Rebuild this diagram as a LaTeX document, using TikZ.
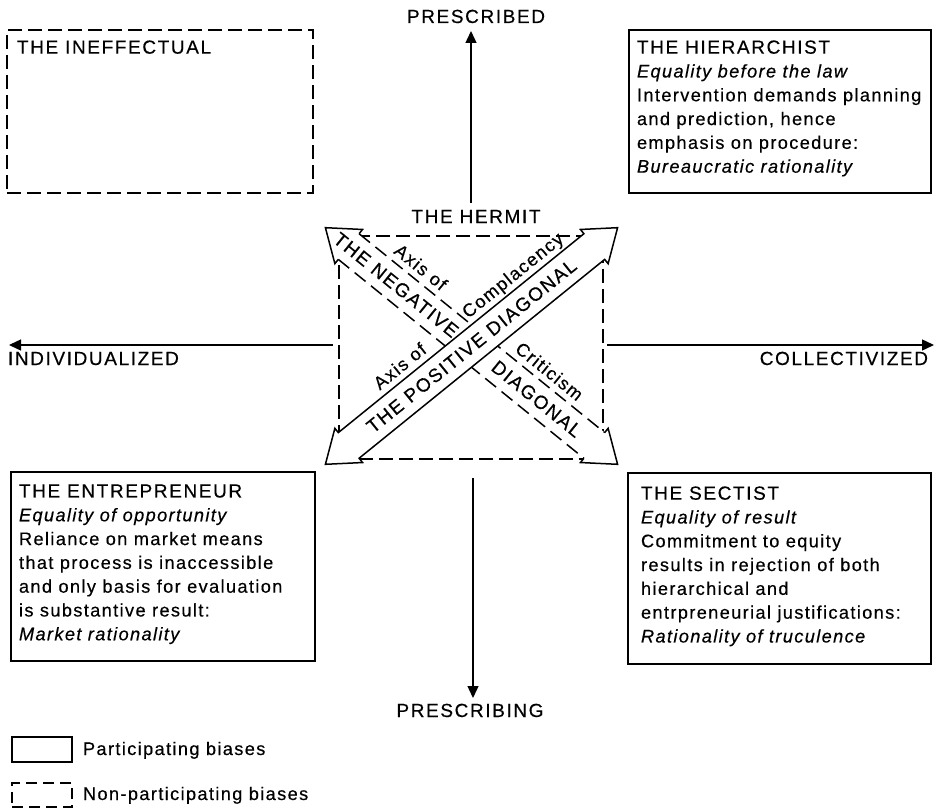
\documentclass[tikz,border=0pt]{standalone}
\usepackage{fontspec}
\setmainfont{Liberation Sans}[LetterSpace=7.5, FakeBold=0.4]
\usetikzlibrary{arrows.meta}
\newcommand\capsfont{\fontsize{19}{24}\selectfont\addfontfeature{LetterSpace=8.5}}
\newcommand\bodyfont{\fontsize{18.2}{23.8}\selectfont}
\begin{document}
\begin{tikzpicture}[x=1pt,y=-1pt,
  every node/.style={inner sep=0pt, outer sep=0pt},
  bxsolid/.style={draw, line width=1.7pt, anchor=north west},
  bxdash/.style={draw, line width=1.7pt, anchor=north west, dash pattern=on 14pt off 6pt},
  boxtext/.style={anchor=north west, align=left, font=\bodyfont},
  caps/.style={font=\capsfont},
  small/.style={font=\bodyfont},
  axis/.style={line width=1.4pt, -{Triangle[length=12pt,width=11pt]}},
  fatline/.style={line width=1.5pt, line join=miter},
  fatdash/.style={line width=1.5pt, dash pattern=on 14pt off 7pt},
]
\useasboundingbox (0,0) rectangle (940,808);

% ---- the four bias boxes ----
\node[bxdash, minimum width=306pt, minimum height=163pt] (ineff) at (7,30) {};
\node[boxtext] (inefftext) at (17,40.4) {{\capsfont THE INEFFECTUAL}};

\node[bxsolid, minimum width=302pt, minimum height=163pt] (hier) at (629,30) {};
\node[boxtext] (hiertext) at (637,40.4) {{\capsfont THE HIERARCHIST}\\
  \textit{Equality before the law}\\
  Intervention demands planning\\
  and prediction, hence\\
  emphasis on procedure:\\
  \textit{Bureaucratic rationality}};

\node[bxsolid, minimum width=304pt, minimum height=189pt] (entre) at (11,472) {};
\node[boxtext] (entretext) at (19,484.4) {{\capsfont THE ENTREPRENEUR}\\
  \textit{Equality of opportunity}\\
  Reliance on market means\\
  that process is inaccessible\\
  and only basis for evaluation\\
  is substantive result:\\
  \textit{Market rationality}};

\node[bxsolid, minimum width=303pt, minimum height=191pt] (sect) at (628,473) {};
\node[boxtext] (secttext) at (641,486.4) {{\capsfont THE SECTIST}\\
  \textit{Equality of result}\\
  Commitment to equity\\
  results in rejection of both\\
  hierarchical and\\
  entrpreneurial justifications:\\
  \textit{Rationality of truculence}};

% ---- central zone of the hermit ----
\node[bxdash, minimum width=264pt, minimum height=223pt] (zone) at (339,236) {};
\node[caps, anchor=base] (hermit) at (476,223) {THE HERMIT};

% ---- negative diagonal (upper left to lower right) ----
\begin{scope}[shift={(471.5,346)}, x={(0.7771pt,-0.6293pt)}, y={(0.6293pt,0.7771pt)}]
  \fill[white] (188,0) -- (158,22) -- (158,16.5) -- (-158,16.5) -- (-158,22) -- (-188,0)
    -- (-158,-22) -- (-158,-16.5) -- (158,-16.5) -- (158,-22) -- cycle;
  \draw[fatline] (158,16.5) -- (158,22) -- (188,0) -- (158,-22) -- (158,-16.5);
  \draw[fatline] (-158,16.5) -- (-158,22) -- (-188,0) -- (-158,-22) -- (-158,-16.5);
  \draw[fatdash] (-158,16.5) -- (158,16.5);
  \draw[fatdash] (-158,-16.5) -- (158,-16.5);
  \node[caps, rotate=-39] (negA) at (-97,0) {THE NEGATIVE};
  \node[caps, rotate=-39] (negB) at (84,0) {DIAGONAL};
  \node[small, rotate=-39, anchor=base] (critA) at (-89,23) {Axis of};
  \node[small, rotate=-39, anchor=base] (critB) at (76.5,23) {Criticism};
\end{scope}

% ---- positive diagonal (lower left to upper right) ----
\begin{scope}[shift={(471.5,346)}, x={(0.7771pt,0.6293pt)}, y={(-0.6293pt,0.7771pt)}]
  \filldraw[fatline, fill=white] (188,0) -- (158,22) -- (158,16.5) -- (-158,16.5) -- (-158,22) -- (-188,0)
    -- (-158,-22) -- (-158,-16.5) -- (158,-16.5) -- (158,-22) -- cycle;
  \node[caps, rotate=39] (posA) at (0,0) {THE POSITIVE DIAGONAL};
  \node[small, rotate=39, anchor=base] (compA) at (-68.5,23) {Axis of};
  \node[small, rotate=39, anchor=base] (compB) at (76.5,23) {Complacency};
\end{scope}

% ---- the two axes ----
\coordinate (upstart) at (471,203);
\coordinate (upend) at (471,31);
\coordinate (downstart) at (473,478);
\coordinate (downend) at (473,698);
\coordinate (leftstart) at (333,345);
\coordinate (leftend) at (9,345);
\coordinate (rightstart) at (607,345);
\coordinate (rightend) at (934,345);
\draw[axis] (upstart) -- (upend);
\draw[axis] (downstart) -- (downend);
\draw[axis] (leftstart) -- (leftend);
\draw[axis] (rightstart) -- (rightend);
\node[caps, anchor=base] (prescribed) at (476,23) {PRESCRIBED};
\node[caps, anchor=base] (prescribing) at (470,717) {PRESCRIBING};
\node[caps, anchor=base west] (indiv) at (8,365) {INDIVIDUALIZED};
\node[caps, anchor=base east] (collect) at (928,365) {COLLECTIVIZED};

% ---- key ----
\node[bxsolid, minimum width=60pt, minimum height=25pt] (keyp) at (12,737) {};
\node[small, anchor=base west] (keyptext) at (83,755) {Participating biases};
\node[bxdash, dash pattern=on 11pt off 6pt, minimum width=60pt, minimum height=24pt] (keyn) at (12,783) {};
\node[small, anchor=base west] (keyntext) at (83,800) {Non-participating biases};
\end{tikzpicture}
\end{document}
